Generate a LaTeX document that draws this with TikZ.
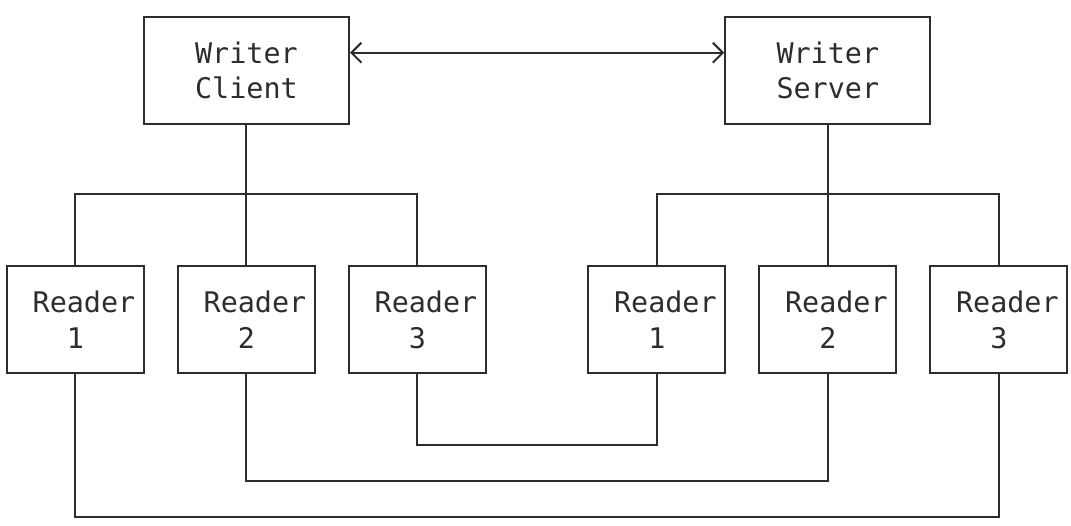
\documentclass[tikz,border=0pt]{standalone}
\usepackage{fontspec}
\newfontfamily\asciifont{DejaVu Sans Mono}
\usepackage{tikz}
\usetikzlibrary{arrows.meta}
\definecolor{inkgray}{RGB}{45,45,45}
\tikzset{
  writer/.style={
    rectangle, draw=inkgray, line width=1pt, inner sep=0pt,
    minimum width=102.6pt, minimum height=53.4pt, align=center,
    text=inkgray, font=\asciifont\fontsize{14.2}{17.8}\selectfont
  },
  reader/.style={writer, minimum width=68.4pt},
  link/.style={draw=inkgray, line width=1pt},
  duplex/.style={link,
    {Straight Barb[length=5pt,width=10pt]}-{Straight Barb[length=5pt,width=10pt]}}
}
\begin{document}
\begin{tikzpicture}[x=8.55pt, y=-17.8pt]
  \useasboundingbox (-0.41,-0.48) rectangle (62.22,14.27);

  % Writers
  \node[writer] (wc) at (14,1.5) {Writer\\Client};
  \node[writer] (ws) at (48,1.5) {Writer\\Server};
  \draw[duplex] ([yshift=8.9pt]wc.east) -- ([yshift=8.9pt]ws.west);

  % Readers
  \foreach \name/\col/\num in {cr1/4/1, cr2/14/2, cr3/24/3,
                               sr1/38/1, sr2/48/2, sr3/58/3} {
    \node[reader] (\name) at (\col,8.5) {\hphantom{R}Reader\\\num};
  }

  % Fan-out to readers
  \draw[link] (wc.south) -- (cr2.north);
  \draw[link] (cr1.north) -- ++(0,-2) -| (cr3.north);
  \draw[link] (ws.south) -- (sr2.north);
  \draw[link] (sr1.north) -- ++(0,-2) -| (sr3.north);

  % Reader pairs
  \draw[link] (cr3.south) -- ++(0,2) -| (sr1.south);
  \draw[link] (cr2.south) -- ++(0,3) -| (sr2.south);
  \draw[link] (cr1.south) -- ++(0,4) -| (sr3.south);
\end{tikzpicture}
\end{document}
